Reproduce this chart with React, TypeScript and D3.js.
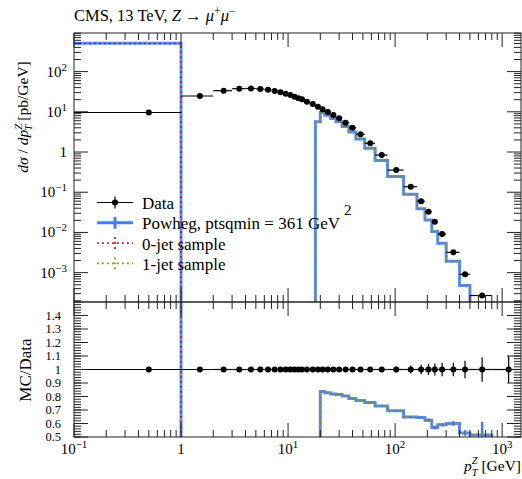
import { useEffect, useRef } from 'react';
import * as d3 from 'd3';

// Bin edges of the measurement (GeV)
const binEdges = [0, 1, 2, 3, 4, 5, 6, 7, 8, 9, 10, 11, 12, 13, 14, 16, 18, 20, 22, 25, 28, 32, 37, 43, 52, 65, 85, 120, 160, 190, 220, 250, 300, 400, 500, 800, 1500];

// Data dsigma/dpT (pb/GeV)
const dataValues = [9.6, 24.7, 33.5, 37.6, 38.0, 37.0, 35.5, 32.9, 30.5, 28.0, 26.0, 23.8, 21.7, 20.5,
  17.8, 15.6, 13.4, 11.5, 9.9, 8.3, 6.9, 5.36, 4.0, 2.75, 1.65, 0.84, 0.356, 0.137, 0.060, 0.0327,
  0.0185, 0.0091, 0.0032, 0.00091, 0.00027, 0.00003];
const dataRelErr = [0.01, 0.01, 0.01, 0.01, 0.01, 0.01, 0.01, 0.01, 0.01, 0.01, 0.01, 0.01, 0.01, 0.01,
  0.01, 0.01, 0.01, 0.01, 0.01, 0.01, 0.01, 0.012, 0.012, 0.014, 0.016, 0.018, 0.022, 0.03, 0.035, 0.04,
  0.045, 0.05, 0.05, 0.065, 0.09, 0.1];

// Powheg total and its two samples
const powhegValues = [506, 0, 0, 0, 0, 0, 0, 0, 0, 0, 0, 0, 0, 0, 0, 0, 5.7, 9.63, 8.2, 6.8, 5.62, 4.31,
  3.14, 2.12, 1.246, 0.613, 0.247, 0.0888, 0.0387, 0.0204, 0.01055, 0.00537, 0.00192, 0.000482, 0.000139, 0];
const powhegRelErr = [0.003, 0, 0, 0, 0, 0, 0, 0, 0, 0, 0, 0, 0, 0, 0, 0, 0.01, 0.005, 0.005, 0.005, 0.005,
  0.005, 0.005, 0.005, 0.006, 0.008, 0.01, 0.012, 0.015, 0.02, 0.025, 0.02, 0.03, 0.04, 0.19, 0];
const zeroJetValues = [506, 0, 0, 0, 0, 0, 0, 0, 0, 0, 0, 0, 0, 0, 0, 0, 0, 0, 0, 0, 0, 0,
  0, 0, 0, 0, 0, 0, 0, 0, 0, 0, 0, 0, 0, 0];
const oneJetValues = [0, 0, 0, 0, 0, 0, 0, 0, 0, 0, 0, 0, 0, 0, 0, 0, 5.7, 9.63, 8.2, 6.8, 5.62, 4.31,
  3.14, 2.12, 1.246, 0.613, 0.247, 0.0888, 0.0387, 0.0204, 0.01055, 0.00537, 0.00192, 0.000482, 0.000139, 0];

// Tick labels
const xMajorTicks = [0.1, 1, 10, 100, 1000];
const xTickLabels = [['10', '−1'], ['1', ''], ['10', '1'], ['10', '2'], ['10', '3']];
const yMajorTicks = [1e-3, 1e-2, 1e-1, 1, 10, 100];
const yTickLabels = [['10', '−3'], ['10', '−2'], ['10', '−1'], ['1', ''], ['10', '1'], ['10', '2']];
const ratioTicks = [0.5, 0.6, 0.7, 0.8, 0.9, 1.0, 1.1, 1.2, 1.3, 1.4];
const ratioTickLabels = ['0.5', '0.6', '0.7', '0.8', '0.9', '1', '1.1', '1.2', '1.3', '1.4'];

const legendLabels = ['Data', 'Powheg, ptsqmin = 361 GeV', '0-jet sample', '1-jet sample'];

const FONT = '"Liberation Serif", "DejaVu Serif", serif';
const BLUE = '#3f7fff';
const RED = '#b52626';
const OLIVE = '#8c8c00';
const AXIS = '#222';

const App = () => {
  const svgRef = useRef(null);

  useEffect(() => {
    if (!svgRef.current) return;
    const svg = d3.select(svgRef.current);
    svg.selectAll('*').remove();

    const left = 74, right = 521, top = 33, mid = 302, bottom = 437;

    const x = d3.scaleLog().domain([0.1, 1500]).range([left, right]);
    const y = d3.scaleLog().domain([Math.pow(10, -3.73), Math.pow(10, 2.96)]).range([mid, top]);
    const yr = d3.scaleLinear().domain([0.5, 1.5]).range([bottom, mid]);

    const bins = dataValues.map((v, i) => ({
      lo: Math.max(binEdges[i], 0.1),
      hi: binEdges[i + 1],
      c: (binEdges[i] + binEdges[i + 1]) / 2,
      v,
      err: dataRelErr[i],
    }));

    const defs = svg.append('defs');
    defs.append('clipPath').attr('id', 'clipMain')
      .append('rect').attr('x', left).attr('y', top).attr('width', right - left).attr('height', mid - top);
    defs.append('clipPath').attr('id', 'clipRatio')
      .append('rect').attr('x', left).attr('y', mid).attr('width', right - left).attr('height', bottom - mid);

    const gMain = svg.append('g').attr('clip-path', 'url(#clipMain)');
    const gRatio = svg.append('g').attr('clip-path', 'url(#clipRatio)');

    const yMainPx = (v) => (v > 0 ? y(v) : mid + 20);
    const yRatioPx = (mc, d) => {
      if (mc <= 0) return bottom + 20;
      const r = mc / d;
      if (r > 1.6) return top - 20;
      return yr(r);
    };

    const stepPoints = (vals, f) => {
      const pts = [];
      vals.forEach((v, i) => {
        const py = f(v, i);
        pts.push([x(bins[i].lo), py]);
        pts.push([x(bins[i].hi), py]);
      });
      return pts;
    };
    const line = d3.line();

    const drawMc = (g, f) => {
      g.append('path').attr('d', line(stepPoints(powhegValues, f)))
        .attr('fill', 'none').attr('stroke', BLUE).attr('stroke-width', 3).attr('stroke-opacity', 0.9);
      // MC error bars
      powhegValues.forEach((v, i) => {
        if (v <= 0 || powhegRelErr[i] <= 0) return;
        const lo = f(v * (1 - powhegRelErr[i]), i);
        const hi = f(v * (1 + powhegRelErr[i]), i);
        g.append('line').attr('x1', x(bins[i].c)).attr('x2', x(bins[i].c))
          .attr('y1', lo).attr('y2', hi).attr('stroke', BLUE).attr('stroke-width', 2.5);
      });
      g.append('path').attr('d', line(stepPoints(zeroJetValues, f)))
        .attr('fill', 'none').attr('stroke', RED).attr('stroke-width', 1.8).attr('stroke-dasharray', '1.8,3.2');
      g.append('path').attr('d', line(stepPoints(oneJetValues, f)))
        .attr('fill', 'none').attr('stroke', OLIVE).attr('stroke-width', 1.8).attr('stroke-dasharray', '1.8,3.2');
    };

    drawMc(gMain, (v) => yMainPx(v));
    drawMc(gRatio, (v, i) => yRatioPx(v, dataValues[i]));

    // Data main
    bins.forEach((b) => {
      const cy = y(b.v);
      gMain.append('line').attr('x1', x(b.lo)).attr('x2', x(b.hi)).attr('y1', cy).attr('y2', cy)
        .attr('stroke', 'black').attr('stroke-width', 1.2);
      gMain.append('line').attr('x1', x(b.c)).attr('x2', x(b.c))
        .attr('y1', y(b.v * (1 - b.err))).attr('y2', y(b.v * (1 + b.err)))
        .attr('stroke', 'black').attr('stroke-width', 1.2);
      gMain.append('circle').attr('cx', x(b.c)).attr('cy', cy).attr('r', 3).attr('fill', 'black');
    });

    // Data ratio
    bins.forEach((b) => {
      const cy = yr(1);
      gRatio.append('line').attr('x1', x(b.lo)).attr('x2', x(b.hi)).attr('y1', cy).attr('y2', cy)
        .attr('stroke', 'black').attr('stroke-width', 1.2);
      gRatio.append('line').attr('x1', x(b.c)).attr('x2', x(b.c))
        .attr('y1', yr(1 - b.err)).attr('y2', yr(1 + b.err))
        .attr('stroke', 'black').attr('stroke-width', 1.2);
      gRatio.append('circle').attr('cx', x(b.c)).attr('cy', cy).attr('r', 3).attr('fill', 'black');
    });

    // Frames
    const axes = svg.append('g').attr('stroke', AXIS).attr('stroke-width', 1).attr('fill', 'none');
    axes.append('rect').attr('x', left).attr('y', top).attr('width', right - left).attr('height', mid - top);
    axes.append('rect').attr('x', left).attr('y', mid).attr('width', right - left).attr('height', bottom - mid);

    const tick = (x1, y1, x2, y2) =>
      axes.append('line').attr('x1', x1).attr('y1', y1).attr('x2', x2).attr('y2', y2);

    // X ticks
    const xMinor = [];
    for (let d = -1; d <= 3; d++) {
      for (let k = 2; k <= 9; k++) {
        const v = k * Math.pow(10, d);
        if (v < 1500) xMinor.push(v);
      }
    }
    xMinor.forEach((v) => {
      const px = x(v);
      tick(px, top, px, top + 7);
      tick(px, mid - 7, px, mid + 7);
      tick(px, bottom, px, bottom - 7);
    });
    xMajorTicks.forEach((v) => {
      const px = x(v);
      tick(px, top, px, top + 14);
      tick(px, mid - 14, px, mid + 14);
      tick(px, bottom, px, bottom - 14);
    });

    // Y main ticks
    const yMinor = [];
    const [ymin, ymax] = y.domain();
    for (let d = -4; d <= 2; d++) {
      for (let k = 2; k <= 9; k++) {
        const v = k * Math.pow(10, d);
        if (v > ymin && v < ymax) yMinor.push(v);
      }
    }
    yMinor.forEach((v) => {
      const py = y(v);
      tick(left, py, left + 7, py);
      tick(right, py, right - 7, py);
    });
    yMajorTicks.forEach((v) => {
      const py = y(v);
      tick(left, py, left + 14, py);
      tick(right, py, right - 14, py);
    });

    // Ratio ticks
    d3.range(0, 51).map((i) => 0.5 + i * 0.02).forEach((v) => {
      const py = yr(v);
      tick(left, py, left + 7, py);
      tick(right, py, right - 7, py);
    });
    ratioTicks.forEach((v) => {
      const py = yr(v);
      tick(left, py, left + 14, py);
      tick(right, py, right - 14, py);
    });

    // Text
    const txt = svg.append('g').attr('font-family', FONT).attr('fill', 'black');

    const powLabel = (g, px, py, base, exp, anchor) => {
      const t = g.append('text').attr('x', px).attr('y', py).attr('font-size', 15).attr('text-anchor', anchor);
      t.append('tspan').text(base);
      if (exp) t.append('tspan').attr('font-size', 11).attr('dy', -6).text(exp);
      return t;
    };

    xMajorTicks.forEach((v, i) => {
      powLabel(txt, x(v), 454, xTickLabels[i][0], xTickLabels[i][1], 'middle');
    });
    yMajorTicks.forEach((v, i) => {
      powLabel(txt, 67, y(v) + 5, yTickLabels[i][0], yTickLabels[i][1], 'end');
    });
    ratioTicks.forEach((v, i) => {
      txt.append('text').attr('x', 61).attr('y', yr(v) + 4).attr('font-size', 12.5)
        .attr('text-anchor', 'end').text(ratioTickLabels[i]);
    });

    // Title
    const title = txt.append('text').attr('x', 74).attr('y', 21).attr('font-size', 16.5);
    title.append('tspan').text('CMS, 13 TeV, ');
    title.append('tspan').attr('font-style', 'italic').text('Z');
    title.append('tspan').text(' → ');
    title.append('tspan').attr('font-style', 'italic').text('μ');
    title.append('tspan').attr('font-size', 12).attr('dy', -6).text('+');
    title.append('tspan').attr('font-style', 'italic').attr('dy', 6).text('μ');
    title.append('tspan').attr('font-size', 12).attr('dy', -6).text('−');

    // Y label main
    const yl = txt.append('text').attr('transform', 'translate(28,117) rotate(-90)')
      .attr('text-anchor', 'middle').attr('font-size', 15.5);
    yl.append('tspan').attr('font-style', 'italic').text('dσ');
    yl.append('tspan').text(' / ');
    yl.append('tspan').attr('font-style', 'italic').text('dp');
    yl.append('tspan').attr('font-style', 'italic').attr('font-size', 11).attr('dy', -6).text('Z');
    yl.append('tspan').attr('font-style', 'italic').attr('font-size', 11).attr('dx', -7).attr('dy', 10).text('T');
    yl.append('tspan').attr('dy', -4).text(' [pb/GeV]');

    // Y label ratio
    txt.append('text').attr('transform', 'translate(31,370) rotate(-90)')
      .attr('text-anchor', 'middle').attr('font-size', 17).text('MC/Data');

    // X label
    const xl = txt.append('text').attr('x', 521).attr('y', 471).attr('text-anchor', 'end').attr('font-size', 15.5);
    xl.append('tspan').attr('font-style', 'italic').text('p');
    xl.append('tspan').attr('font-style', 'italic').attr('font-size', 10.5).attr('dy', -7).text('Z');
    xl.append('tspan').attr('font-style', 'italic').attr('font-size', 10.5).attr('dx', -6).attr('dy', 12).text('T');
    xl.append('tspan').attr('dy', -5).text(' [GeV]');

    // Legend
    const lg = svg.append('g');
    const lx0 = 97, lx1 = 133, lxc = 115;
    legendLabels.forEach((label, i) => {
      const base = 209 + i * 20.3;
      const ly = base - 6.5;
      if (i === 0) {
        lg.append('line').attr('x1', lx0).attr('x2', lx1).attr('y1', ly).attr('y2', ly).attr('stroke', 'black').attr('stroke-width', 1.2);
        lg.append('line').attr('x1', lxc).attr('x2', lxc).attr('y1', ly - 6).attr('y2', ly + 6).attr('stroke', 'black').attr('stroke-width', 1.2);
        lg.append('circle').attr('cx', lxc).attr('cy', ly).attr('r', 3).attr('fill', 'black');
      } else {
        const color = i === 1 ? BLUE : i === 2 ? RED : OLIVE;
        const w = i === 1 ? 3 : 1.8;
        const dash = i === 1 ? null : '1.8,3.2';
        lg.append('line').attr('x1', lx0).attr('x2', lx1).attr('y1', ly).attr('y2', ly)
          .attr('stroke', color).attr('stroke-width', w).attr('stroke-dasharray', dash);
        lg.append('line').attr('x1', lxc).attr('x2', lxc).attr('y1', ly - 6).attr('y2', ly + 6)
          .attr('stroke', color).attr('stroke-width', w).attr('stroke-dasharray', dash);
      }
      const t = txt.append('text').attr('x', 142).attr('y', base).attr('font-size', 17);
      t.append('tspan').text(label);
      if (i === 1) t.append('tspan').attr('dx', 4).attr('dy', -14).attr('font-size', 15).text('2');
    });
  }, []);

  return (
    <svg
      ref={svgRef}
      width={522}
      height={479}
      style={{ position: 'fixed', left: 0, top: 0, background: 'white' }}
    />
  );
};

export default App;
